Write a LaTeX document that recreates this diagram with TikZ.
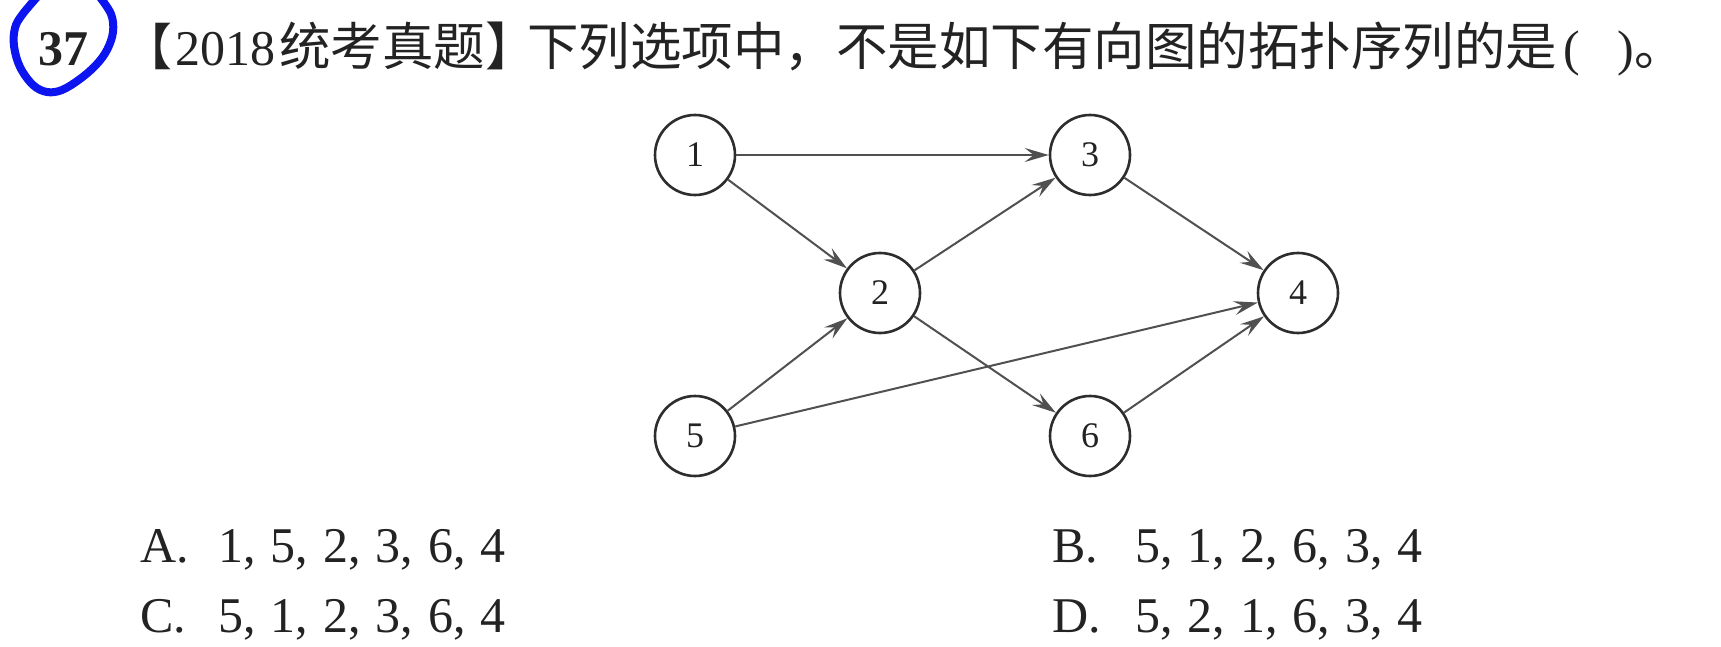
\documentclass[tikz,border=0pt]{standalone}
\usepackage{fontspec}
\setmainfont{Liberation Serif}
\newfontfamily\cjk{Noto Sans CJK SC}
\usetikzlibrary{arrows.meta}
\definecolor{inkblue}{RGB}{12,20,240}
\definecolor{circ}{RGB}{45,45,45}
\definecolor{arr}{RGB}{80,80,80}
\definecolor{txt}{RGB}{35,35,35}
\newcommand\seqfont{\fontsize{50}{50}\selectfont\spaceskip 15pt\relax}
\begin{document}
\begin{tikzpicture}[x=1pt,y=-1pt,
  vtx/.style={circle,draw=circ,line width=2.6pt,minimum size=80pt,inner sep=0pt,
    font=\fontsize{36}{36}\selectfont,text=txt},
  arc/.style={draw=arr,line width=2pt,-{Stealth[length=24pt,width=14pt,inset=9pt]}},
  lbl/.style={anchor=base west,inner sep=0pt,font=\fontsize{50}{50}\selectfont,text=txt},
  hz/.style={lbl,font=\fontsize{51.5}{51.5}\selectfont\cjk},
  seq/.style={lbl,font=\seqfont},
  loop/.style={draw=inkblue,line width=8pt,line cap=round,line join=round}
]
\useasboundingbox (0,0) rectangle (1721,647);
\fill[white] (0,0) rectangle (1721,647);

% question number with hand-drawn loop
\draw[loop] plot[smooth,tension=0.6] coordinates {(99,-4) (111,14) (113,32) (107,50) (96,65) (80,79) (62,90) (47,92) (33,85) (20,67) (14,46) (15,28) (22,15) (38,-4)};
\node[lbl] (num) at (38,66) {\bfseries 37};

% title line
\node[lbl] (t1) at (122,66) {{\cjk 【}\hspace{3pt}2018};
\node[hz] (t3) at (279,66) {统考真题】};
\node[hz] (t4) at (527,66) {下列选项中，不是如下有向图的拓扑序列的是};
\node[lbl,anchor=base west] (t5) at ([xshift=6pt]t4.base east) {(\hspace{0.75em}){\cjk 。}};

% graph
\node[vtx] (n1) at (695,155) {1};
\node[vtx] (n3) at (1090,155) {3};
\node[vtx] (n2) at (880,293) {2};
\node[vtx] (n4) at (1298,293) {4};
\node[vtx] (n5) at (695,436) {5};
\node[vtx] (n6) at (1090,436) {6};

\draw[arc] (n1) -- (n3);
\draw[arc] (n1) -- (n2);
\draw[arc] (n2) -- (n3);
\draw[arc] (n3) -- (n4);
\draw[arc] (n5) -- (n2);
\draw[arc] (n5) -- (n4);
\draw[arc] (n2) -- (n6);
\draw[arc] (n6) -- (n4);

% options
\node[lbl] (la) at (140,562) {A.};
\node[seq] (sa) at (218,562) {1, 5, 2, 3, 6, 4};
\node[lbl] (lb) at (1052,562) {B.};
\node[seq] (sb) at (1135,562) {5, 1, 2, 6, 3, 4};
\node[lbl] (lc) at (140,632) {C.};
\node[seq] (sc) at (218,632) {5, 1, 2, 3, 6, 4};
\node[lbl] (ld) at (1052,632) {D.};
\node[seq] (sd) at (1135,632) {5, 2, 1, 6, 3, 4};
\end{tikzpicture}
\end{document}
